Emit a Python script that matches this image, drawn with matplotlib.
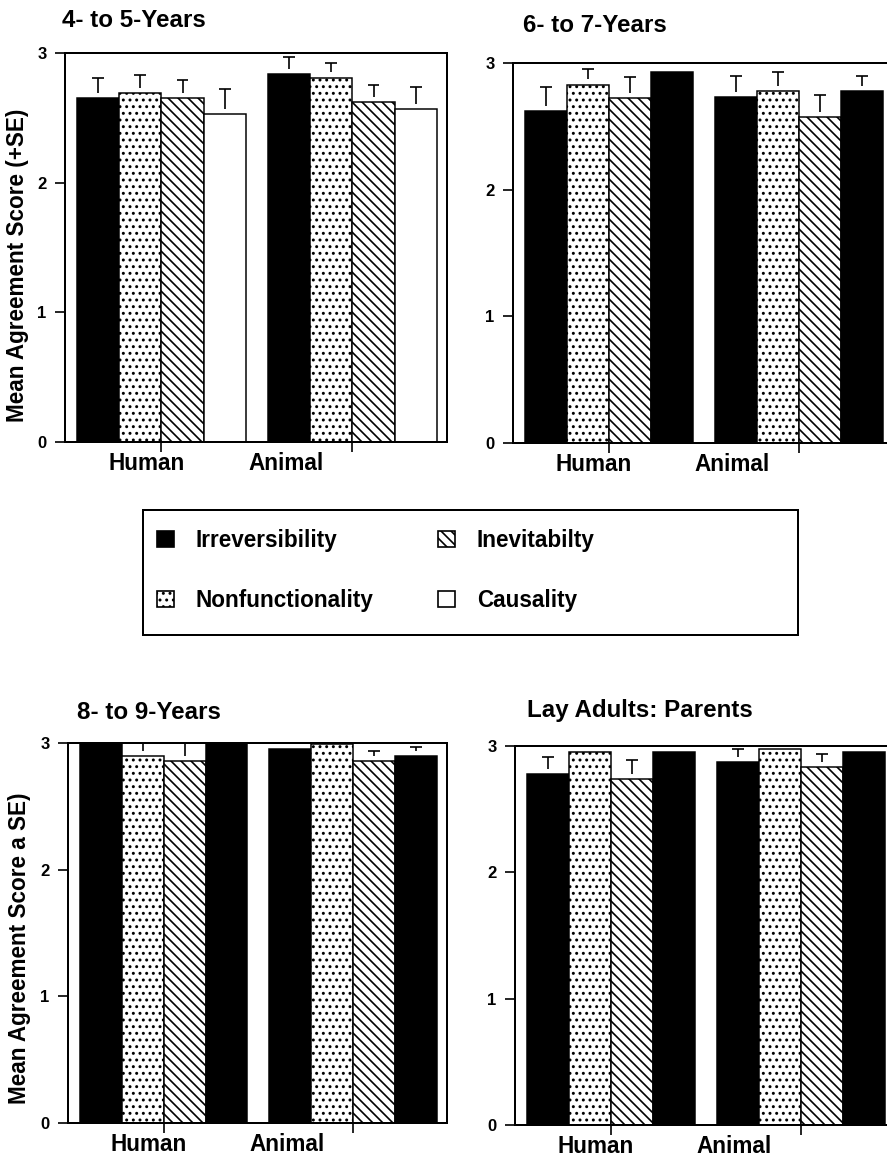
import numpy as np
import matplotlib.pyplot as plt
from matplotlib.patches import Rectangle, Patch

plt.rcParams['font.family'] = ['Liberation Sans', 'DejaVu Sans']
plt.rcParams['font.weight'] = 'bold'
plt.rcParams['hatch.linewidth'] = 1.0

# data
titles = ['4- to 5-Years', '6- to 7-Years', '8- to 9-Years', 'Lay Adults: Parents']
groups = ['Human', 'Animal']
series = ['Irreversibility', 'Nonfunctionality', 'Inevitabilty', 'Causality']

# rows: Human, Animal ; columns: the four series
means_4to5 = [[2.65, 2.69, 2.65, 2.53], [2.84, 2.81, 2.62, 2.57]]
se_4to5 = [[0.16, 0.14, 0.14, 0.19], [0.13, 0.11, 0.13, 0.17]]

means_6to7 = [[2.62, 2.83, 2.72, 2.93], [2.73, 2.78, 2.57, 2.78]]
se_6to7 = [[0.19, 0.12, 0.17, 0.0], [0.17, 0.15, 0.18, 0.12]]

means_8to9 = [[3.0, 2.90, 2.86, 3.0], [2.95, 2.99, 2.86, 2.90]]
se_8to9 = [[0.0, 0.15, 0.20, 0.0], [0.0, 0.0, 0.08, 0.07]]

means_adults = [[2.78, 2.95, 2.74, 2.95], [2.87, 2.98, 2.83, 2.95]]
se_adults = [[0.13, 0.0, 0.15, 0.0], [0.11, 0.0, 0.11, 0.0]]

all_means = [means_4to5, means_6to7, means_8to9, means_adults]
all_se = [se_4to5, se_6to7, se_8to9, se_adults]

W, H = 887, 1160
DPI = 120
fig = plt.figure(figsize=(W / DPI, H / DPI), dpi=DPI)

# axes boxes in pixels: left, top, right, bottom
boxes = [(65, 53, 447, 442), (513, 63, 893, 443),
         (68, 743, 447, 1123), (515, 746, 895, 1125)]
title_pos = [(62, 27), (523, 32), (77, 719), (527, 717)]
ylabels = {0: ('Mean Agreement Score (+SE)', 18, 265),
           2: ('Mean Agreement Score a SE)', 20, 948)}
fourth_color = ['white', 'black', 'black', 'black']

hatches = [None, '...', '\\\\\\\\', None]
width = 0.221
gx = np.arange(len(groups))
label_x = [-0.08, 0.65]
err_gap = 0.04  # the T marks float a little above the bars

for p in range(4):
    l, t, r, b = boxes[p]
    ax = fig.add_axes([l / W, 1 - b / H, (r - l) / W, (b - t) / H])
    means = np.array(all_means[p])
    ses = np.array(all_se[p])
    faces = ['black', 'white', 'white', fourth_color[p]]
    for k in range(len(series)):
        xs = gx + (k - 1.5) * width
        ax.bar(xs, means[:, k], width, color=faces[k], edgecolor='black',
               hatch=hatches[k], linewidth=0.9, zorder=2)
        keep = ses[:, k] > 0
        if keep.any():
            top = means[keep, k] + ses[keep, k]
            ax.errorbar(xs[keep], top,
                        yerr=[ses[keep, k] - err_gap, np.zeros(keep.sum())],
                        fmt='none', ecolor='black', elinewidth=1.0,
                        capsize=0, zorder=3)
            ax.errorbar(xs[keep], top, xerr=width * 0.14, fmt='none',
                        ecolor='black', elinewidth=1.0, capsize=0, zorder=3)
    ax.set_xlim(-0.505, 1.495)
    ax.set_ylim(0, 3)
    ax.set_yticks([0, 1, 2, 3])
    ax.tick_params(axis='y', direction='out', length=6, width=1, pad=5,
                   labelsize=10)
    ax.set_xticks(label_x)
    ax.set_xticklabels(groups, fontsize=13.5)
    ax.tick_params(axis='x', which='major', length=0, pad=6)
    ax.set_xticks(gx, minor=True)
    ax.tick_params(axis='x', which='minor', direction='out', length=6, width=1)
    for s in ax.spines.values():
        s.set_linewidth(1.2)

    tx, ty = title_pos[p]
    fig.text(tx / W, 1 - ty / H, titles[p], ha='left', va='baseline',
             fontsize=14.5)
    if p in ylabels:
        txt, yx, yy = ylabels[p]
        fig.text(yx / W, 1 - yy / H, txt, rotation=90, ha='center',
                 va='center', fontsize=13.5)

# legend
handles = [Patch(facecolor='black', edgecolor='black'),
           Patch(facecolor='white', edgecolor='black', hatch='...'),
           Patch(facecolor='white', edgecolor='black', hatch='\\\\\\\\'),
           Patch(facecolor='white', edgecolor='black')]
fig.legend(handles, series, loc='upper left',
           bbox_to_anchor=(157 / W, 1 - 529 / H), ncol=2, frameon=False,
           borderpad=0, borderaxespad=0, handlelength=0.75, handleheight=0.75,
           handletextpad=0.95, columnspacing=2.9, labelspacing=1.63,
           fontsize=13.5)
fig.add_artist(Rectangle((143 / W, 1 - 635 / H), (798 - 143) / W,
                         (635 - 510) / H, transform=fig.transFigure,
                         fill=False, edgecolor='black', linewidth=1.2))

fig.savefig('out.png', dpi=DPI)
